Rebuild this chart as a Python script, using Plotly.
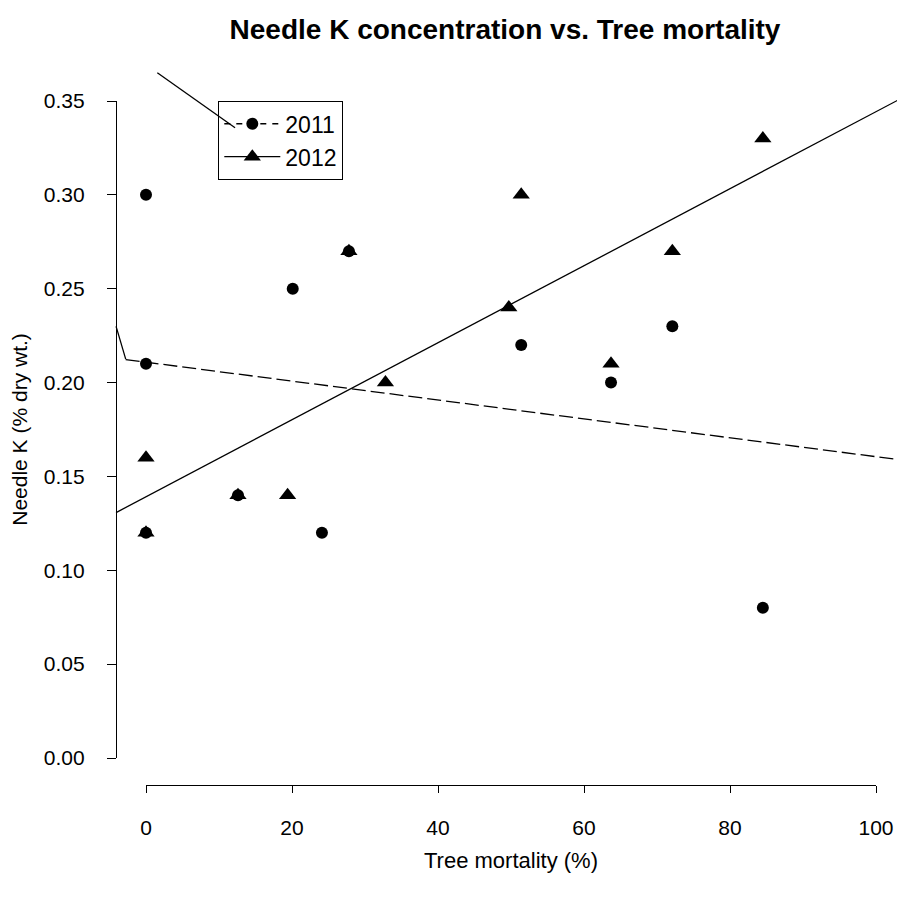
import numpy as np
import plotly.graph_objects as go

# ---- data ----
mort_2011 = [0, 0, 0, 12.6, 20.1, 24.1, 27.8, 51.4, 63.7, 72.1, 84.5]
k_2011 = [0.30, 0.21, 0.12, 0.14, 0.25, 0.12, 0.27, 0.22, 0.20, 0.23, 0.08]
mort_2012 = [0, 0, 12.6, 19.4, 27.8, 32.8, 49.7, 51.4, 63.7, 72.1, 84.5]
k_2012 = [0.16, 0.12, 0.14, 0.14, 0.27, 0.20, 0.24, 0.30, 0.21, 0.27, 0.33]

fit_x_2011 = [-2.78, 103.3]
fit_x_2012 = [-4.1, 105.0]
leader_x = [1.55, 12.2, None, -4.1, -2.78]
leader_y = [0.365, 0.3357, None, 0.2299, 0.2125]

x_ticks = [0, 20, 40, 60, 80, 100]
y_ticks = [0.00, 0.05, 0.10, 0.15, 0.20, 0.25, 0.30, 0.35]

FONT = "Liberation Sans, Arial, sans-serif"
OFF = 8                      # page body margin of the html page
W, H = 905 - OFF, 901 - OFF  # figure size so that it fills the window

# window-pixel geometry of the detached axes (converted to figure pixels)
x0_px, x100_px, xaxis_y_px = 146 - OFF, 876 - OFF, 785 - OFF
y0_px, y35_px, yaxis_x_px = 758 - OFF, 101 - OFF, 116 - OFF
px_per_x = (x100_px - x0_px) / 100.0
px_per_y = (y0_px - y35_px) / 0.35

p1 = np.polyfit(mort_2011, k_2011, 1)
p2 = np.polyfit(mort_2012, k_2012, 1)

fig = go.Figure()

# regression lines + leader segments on a full-figure hidden axis pair
fig.add_trace(go.Scatter(x=fit_x_2011, y=np.polyval(p1, fit_x_2011), mode="lines",
                         line=dict(color="black", width=1.3, dash="14px,5px"),
                         showlegend=False, hoverinfo="skip", xaxis="x", yaxis="y"))
fig.add_trace(go.Scatter(x=fit_x_2012, y=np.polyval(p2, fit_x_2012), mode="lines",
                         line=dict(color="black", width=1.3),
                         showlegend=False, hoverinfo="skip", xaxis="x", yaxis="y"))

# data points on the visible axes
fig.add_trace(go.Scatter(x=mort_2011, y=k_2011, mode="markers", cliponaxis=False,
                         marker=dict(symbol="circle", size=12, color="black"),
                         showlegend=False, xaxis="x2", yaxis="y2"))
fig.add_trace(go.Scatter(x=mort_2012, y=k_2012, mode="markers", cliponaxis=False,
                         marker=dict(symbol="triangle-up", size=15, color="black"),
                         showlegend=False, xaxis="x2", yaxis="y2"))

# legend entries
fig.add_trace(go.Scatter(x=[None], y=[None], mode="lines+markers", name="2011",
                         line=dict(color="black", width=1.3, dash="6px,6px"),
                         marker=dict(symbol="circle", size=12, color="black"),
                         xaxis="x2", yaxis="y2"))
fig.add_trace(go.Scatter(x=[None], y=[None], mode="lines+markers", name="2012",
                         line=dict(color="black", width=1.3),
                         marker=dict(symbol="triangle-up", size=15, color="black"),
                         xaxis="x2", yaxis="y2"))

# leader segments (drawn on a top subplot layer so they cross the legend box)
fig.add_trace(go.Scatter(x=leader_x, y=leader_y, mode="lines",
                         line=dict(color="black", width=1.3),
                         showlegend=False, hoverinfo="skip", xaxis="x", yaxis="y"))

xr = [-x0_px / px_per_x, (W - x0_px) / px_per_x]
yr = [(y0_px - H) / px_per_y, y0_px / px_per_y]

axis_common = dict(showgrid=False, zeroline=False, showline=True, linecolor="black",
                   linewidth=1.3, ticks="outside", tickcolor="black", tickwidth=1.3,
                   automargin=False,
                   tickfont=dict(family=FONT, size=21, color="black"))

fig.update_layout(
    width=W, height=H,
    margin=dict(l=0, r=0, t=0, b=0, pad=0, autoexpand=False),
    paper_bgcolor="white", plot_bgcolor="rgba(0,0,0,0)",
    font=dict(family=FONT, color="black"),
    title=dict(text="<b>Needle K concentration vs. Tree mortality</b>",
               x=(505 - OFF) / W, xanchor="center", y=1 - (29 - OFF) / H, yanchor="middle",
               font=dict(family=FONT, size=28, color="black")),
    xaxis=dict(domain=[0, 1], range=xr, visible=False, fixedrange=True),
    yaxis=dict(domain=[0, 1], range=yr, visible=False, fixedrange=True),
    xaxis2=dict(domain=[x0_px / W, x100_px / W], range=[0, 100], anchor="free",
                position=1 - xaxis_y_px / H, tickvals=x_ticks, ticklen=7,
                ticklabelstandoff=17,
                title=dict(text="Tree mortality (%)", standoff=14,
                           font=dict(family=FONT, size=22, color="black")),
                **axis_common),
    yaxis2=dict(domain=[1 - y0_px / H, 1 - y35_px / H], range=[0, 0.35], anchor="free",
                position=yaxis_x_px / W, tickvals=y_ticks, tickformat=".2f", ticklen=9,
                ticklabelstandoff=18,
                title=dict(text="Needle K (% dry wt.)", standoff=14,
                           font=dict(family=FONT, size=21, color="black")),
                **axis_common),
    legend=dict(x=(218 - OFF) / W, y=1 - (101 - OFF) / H, xanchor="left", yanchor="top",
                bordercolor="black", borderwidth=1.3, bgcolor="rgba(0,0,0,0)",
                font=dict(family=FONT, size=23, color="black"),
                itemwidth=56, tracegroupgap=0),
    showlegend=True,
)

fig.write_html("out.html")
